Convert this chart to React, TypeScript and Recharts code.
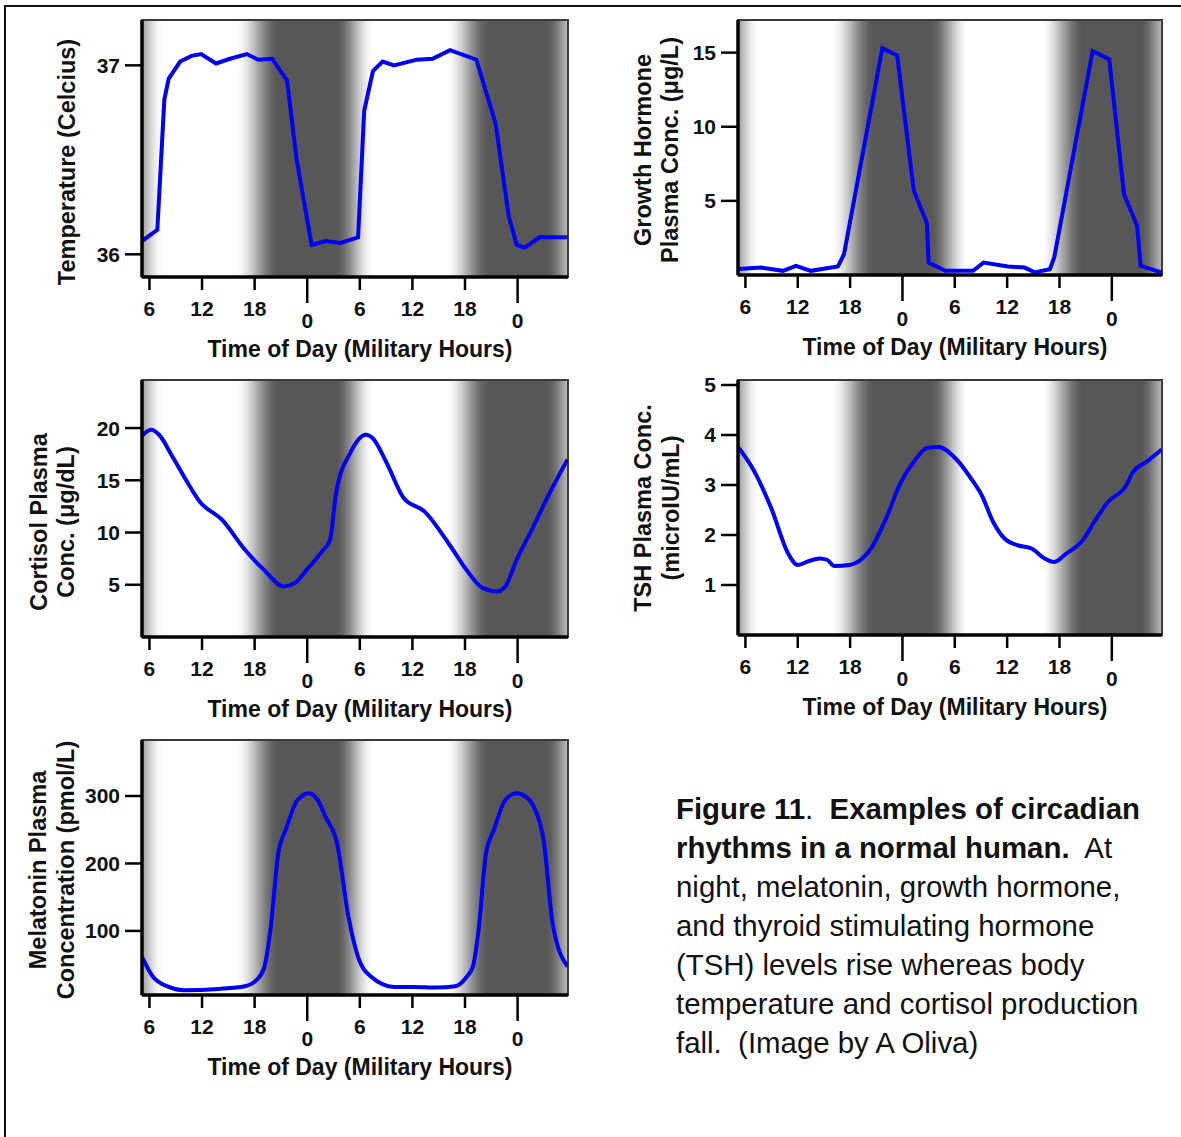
import { LineChart, Line, XAxis, YAxis, ReferenceArea } from "recharts";

// x axis: continuous clock hours, 24 = first midnight, 48 = second midnight
const HOUR_TICKS = [6, 12, 18, 24, 30, 36, 42, 48];
const HOUR_LABELS = ["6", "12", "18", "0", "6", "12", "18", "0"];
const X_DOMAIN: [number, number] = [5.15, 53.75];

// light / dark shading (hour of day)
const DAWN = [3.2, 7.6];
const DUSK = [15.8, 20.8];

const tempHours = [5.15, 6.9, 7.7, 8.2, 9.5, 10.8, 11.9, 13.6, 15.2, 17.1, 18.4, 20.0, 21.7, 22.8, 24.5, 26.1, 27.8, 29.8, 30.5, 31.5, 32.6, 33.9, 36.5, 38.3, 40.3, 43.3, 45.5, 47.0, 47.9, 48.8, 50.5, 53.7];
const tempValues = [36.07, 36.13, 36.82, 36.93, 37.02, 37.05, 37.06, 37.01, 37.035, 37.06, 37.03, 37.035, 36.92, 36.5, 36.05, 36.07, 36.06, 36.09, 36.76, 36.97, 37.02, 37.0, 37.03, 37.035, 37.08, 37.03, 36.69, 36.2, 36.05, 36.035, 36.09, 36.09];

const ghHours = [5.2, 7.8, 10.3, 11.8, 13.5, 16.6, 17.3, 21.7, 23.4, 25.3, 26.8, 27.0, 28.9, 32.1, 33.3, 36.1, 38.0, 39.2, 40.9, 41.4, 45.8, 47.7, 49.4, 50.9, 51.3, 53.7];
const ghValues = [0.4, 0.5, 0.28, 0.62, 0.28, 0.57, 1.4, 15.3, 14.8, 5.7, 3.5, 0.84, 0.28, 0.28, 0.84, 0.57, 0.5, 0.17, 0.39, 1.18, 15.1, 14.55, 5.45, 3.3, 0.62, 0.17];

const cortHours = [5.2, 6.2, 7.1, 8.6, 10.4, 11.7, 14.3, 16.9, 19.1, 21.3, 22.6, 23.9, 25.7, 26.6, 27.3, 28.9, 30.7, 31.5, 33.1, 35.0, 37.4, 40.1, 42.2, 44.0, 45.7, 46.6, 47.9, 49.7, 51.85, 53.7];
const cortValues = [19.3, 19.84, 19.36, 17.3, 14.7, 13.0, 11.2, 8.35, 6.4, 4.84, 5.16, 6.4, 8.2, 9.3, 13.8, 17.6, 19.36, 19.0, 16.6, 13.3, 12.0, 9.0, 6.4, 4.7, 4.36, 4.84, 7.4, 10.4, 14.1, 17.0];

const tshHours = [5.2, 6.9, 9.0, 10.9, 12.0, 13.3, 14.5, 15.4, 16.2, 17.9, 19.2, 20.4, 22.1, 23.8, 25.5, 26.8, 28.1, 30.2, 31.9, 33.1, 34.4, 35.7, 37.3, 38.8, 40.3, 41.4, 42.8, 44.5, 46.2, 47.5, 49.6, 50.4, 52.1, 53.7];
const tshValues = [3.75, 3.31, 2.52, 1.63, 1.4, 1.48, 1.53, 1.5, 1.38, 1.4, 1.5, 1.73, 2.32, 3.05, 3.51, 3.74, 3.76, 3.51, 3.12, 2.79, 2.26, 1.93, 1.79, 1.73, 1.53, 1.46, 1.63, 1.86, 2.32, 2.65, 2.98, 3.25, 3.48, 3.71];

const melHours = [5.2, 6.4, 8.2, 9.9, 13.9, 16.9, 18.2, 19.1, 19.8, 20.7, 21.55, 22.9, 24.2, 25.2, 26.1, 27.4, 28.7, 29.8, 31.3, 33.9, 36.1, 38.75, 40.9, 42.2, 42.9, 43.55, 44.4, 45.3, 46.6, 47.9, 49.2, 50.9, 52.0, 53.7];
const melValues = [60, 32, 17, 12, 14, 18, 27, 46, 101, 215, 250, 294, 304, 294, 269, 230, 121, 61, 32, 17, 17, 16, 18, 32, 47, 101, 215, 250, 294, 304, 296, 240, 111, 47];

const FONT = '"Liberation Sans", Arial, Helvetica, sans-serif';
const BLUE = "#0000f5";
const DARK = 87;
const TICK_FONT = 21;
const TITLE_FONT = 23;
const Y_TITLE_FONT = 23.5;

const toRows = (hours: number[], values: number[]) => hours.map((h, i) => ({ h, v: values[i] }));

// how light the background is at a given hour (0 dark .. 1 white)
function lightAt(hour: number) {
  const t = ((hour % 24) + 24) % 24;
  const ease = (u: number) => u * u * (3 - 2 * u);
  if (t >= DAWN[0] && t <= DAWN[1]) return ease((t - DAWN[0]) / (DAWN[1] - DAWN[0]));
  if (t > DAWN[1] && t < DUSK[0]) return 1;
  if (t >= DUSK[0] && t <= DUSK[1]) return 1 - ease((t - DUSK[0]) / (DUSK[1] - DUSK[0]));
  return 0;
}

function shadeStops() {
  const stops = [];
  const [a, b] = X_DOMAIN;
  for (let h = a; h <= b + 0.001; h += 0.25) {
    const g = Math.round(DARK + (255 - DARK) * lightAt(h));
    stops.push({ offset: (h - a) / (b - a), color: `rgb(${g},${g},${g})` });
  }
  return stops;
}

function HourTick(props: any) {
  const { x, y, payload } = props;
  const idx = HOUR_TICKS.indexOf(payload.value);
  const midnight = payload.value % 24 === 0;
  return (
    <g>
      <line x1={x} x2={x} y1={y} y2={y + (midnight ? 26 : 13)} stroke="#000" strokeWidth={2.5} />
      <text
        x={x}
        y={y + (midnight ? 43 : 31)}
        textAnchor="middle"
        dominantBaseline="central"
        fontSize={TICK_FONT}
        fontWeight="bold"
        fontFamily={FONT}
        fill="#111"
      >
        {HOUR_LABELS[idx]}
      </text>
    </g>
  );
}

const PAD_L = 150;
const PAD_T = 10;
const PAD_R = 12;
const AX_H = 100;

type PanelProps = {
  id: string;
  rows: { h: number; v: number }[];
  plot: { l: number; t: number; r: number; b: number };
  yDomain: [number, number];
  yTicks: number[];
  title: string[];
  titleX: number[];
  titleY: number;
  smooth?: boolean;
};

function Panel({ id, rows, plot, yDomain, yTicks, title, titleX, titleY, smooth }: PanelProps) {
  const left = plot.l - PAD_L;
  const top = plot.t - PAD_T;
  const width = plot.r - plot.l + PAD_L + PAD_R;
  const height = plot.b - plot.t + PAD_T + AX_H;
  const stops = shadeStops();

  const yTitle = () => (
    <g>
      {title.map((line, i) => {
        const cx = titleX[i] - left;
        const cy = titleY - top;
        return (
          <text
            key={line}
            x={cx}
            y={cy}
            transform={`rotate(-90, ${cx}, ${cy})`}
            textAnchor="middle"
            dominantBaseline="central"
            fontSize={Y_TITLE_FONT}
            fontWeight="bold"
            fontFamily={FONT}
            fill="#111"
          >
            {line}
          </text>
        );
      })}
    </g>
  );

  const xTitle = () => (
    <text
      x={(plot.l + plot.r) / 2 + 5 - left}
      y={plot.b + 72 - top}
      textAnchor="middle"
      dominantBaseline="central"
      fontSize={TITLE_FONT}
      fontWeight="bold"
      fontFamily={FONT}
      fill="#111"
    >
      Time of Day (Military Hours)
    </text>
  );

  return (
    <div style={{ position: "absolute", left, top, width, height }}>
      <LineChart width={width} height={height} data={rows} margin={{ top: PAD_T, right: PAD_R, bottom: 0, left: 0 }}>
        <defs>
          <linearGradient id={`shade-${id}`} x1="0" y1="0" x2="1" y2="0">
            {stops.map((s, i) => (
              <stop key={i} offset={s.offset} stopColor={s.color} />
            ))}
          </linearGradient>
        </defs>
        <ReferenceArea
          x1={X_DOMAIN[0]}
          x2={X_DOMAIN[1]}
          y1={yDomain[0]}
          y2={yDomain[1]}
          fill={`url(#shade-${id})`}
          fillOpacity={1}
          stroke="#3a3a3a"
          strokeWidth={2}
        />
        <XAxis
          dataKey="h"
          type="number"
          domain={X_DOMAIN}
          ticks={HOUR_TICKS}
          interval={0}
          height={AX_H}
          tickSize={0}
          tickMargin={0}
          tickLine={false}
          tick={<HourTick />}
          axisLine={{ stroke: "#000", strokeWidth: 3.5 }}
          label={xTitle}
          allowDataOverflow
        />
        <YAxis
          type="number"
          domain={yDomain}
          ticks={yTicks}
          width={PAD_L}
          tickSize={17}
          tickMargin={5}
          tickLine={{ stroke: "#000", strokeWidth: 2.5 }}
          axisLine={{ stroke: "#000", strokeWidth: 3.5 }}
          tick={{ fontSize: TICK_FONT, fontWeight: "bold", fill: "#111", fontFamily: FONT }}
          label={yTitle}
          allowDataOverflow
        />
        <Line
          type={smooth ? "monotone" : "linear"}
          dataKey="v"
          stroke={BLUE}
          strokeWidth={4}
          dot={false}
          isAnimationActive={false}
        />
      </LineChart>
    </div>
  );
}

export default function App() {
  return (
    <div
      style={{
        position: "absolute",
        left: 0,
        top: 0,
        width: 1181,
        height: 1137,
        overflow: "hidden",
        background: "#fff",
        fontFamily: FONT,
      }}
    >
      <div
        style={{
          position: "absolute",
          left: 4,
          top: 5,
          width: 1200,
          height: 1200,
          borderTop: "2px solid #111",
          borderLeft: "2px solid #111",
        }}
      />
      <Panel
        id="temp"
        rows={toRows(tempHours, tempValues)}
        plot={{ l: 142, t: 20, r: 568, b: 277 }}
        yDomain={[35.88, 37.24]}
        yTicks={[36, 37]}
        title={["Temperature (Celcius)"]}
        titleX={[67]}
        titleY={162}
      />
      <Panel
        id="gh"
        rows={toRows(ghHours, ghValues)}
        plot={{ l: 738, t: 20, r: 1162, b: 275 }}
        yDomain={[0, 17.2]}
        yTicks={[5, 10, 15]}
        title={["Growth Hormone", "Plasma Conc. (\u03bcg/L)"]}
        titleX={[643, 670]}
        titleY={150}
      />
      <Panel
        id="cort"
        rows={toRows(cortHours, cortValues)}
        plot={{ l: 142, t: 380, r: 568, b: 637 }}
        yDomain={[0, 24.6]}
        yTicks={[5, 10, 15, 20]}
        title={["Cortisol Plasma", "Conc. (\u03bcg/dL)"]}
        titleX={[39, 66]}
        titleY={522}
        smooth
      />
      <Panel
        id="tsh"
        rows={toRows(tshHours, tshValues)}
        plot={{ l: 738, t: 380, r: 1162, b: 635 }}
        yDomain={[0, 5.1]}
        yTicks={[1, 2, 3, 4, 5]}
        title={["TSH Plasma Conc.", "(microIU/mL)"]}
        titleX={[643, 671]}
        titleY={508}
        smooth
      />
      <Panel
        id="mel"
        rows={toRows(melHours, melValues)}
        plot={{ l: 142, t: 740, r: 568, b: 995 }}
        yDomain={[5, 383]}
        yTicks={[100, 200, 300]}
        title={["Melatonin Plasma", "Concentration (pmol/L)"]}
        titleX={[38, 66]}
        titleY={870}
        smooth
      />
      <div
        style={{
          position: "absolute",
          left: 676,
          top: 789,
          fontSize: 29.4,
          lineHeight: "39px",
          color: "#111",
          whiteSpace: "pre",
        }}
      >
        <b>Figure 11</b>.{"  "}<b>Examples of circadian</b>
        <br />
        <b>rhythms in a normal human.</b>{"  "}At
        <br />
        night, melatonin, growth hormone,
        <br />
        and thyroid stimulating hormone
        <br />
        (TSH) levels rise whereas body
        <br />
        temperature and cortisol production
        <br />
        fall.{"  "}(Image by A Oliva)
      </div>
    </div>
  );
}
